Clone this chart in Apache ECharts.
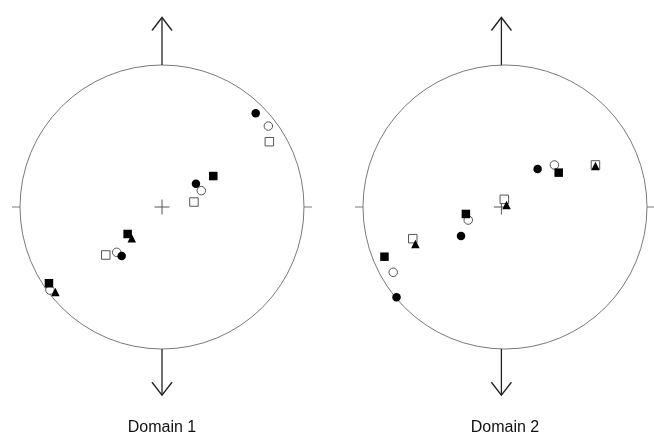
<!DOCTYPE html>
<html>
<head>
<meta charset="utf-8">
<script src="https://cdn.jsdelivr.net/npm/echarts@6/dist/echarts.min.js"></script>
<style>
html,body{margin:0;padding:0;background:#fff;}
#chart{width:654px;height:435px;}
</style>
</head>
<body>
<div id="chart"></div>
<script>
// ---- Data (unit-circle coordinates: x east, y north) ----
const domainNames = ['Domain 1', 'Domain 2'];

const d1OpenSquare   = [[0.756, 0.460], [0.225, 0.035], [-0.396, -0.338]];
const d1OpenCircle   = [[0.749, 0.570], [0.277, 0.115], [-0.319, -0.319], [-0.789, -0.585]];
const d1FilledCircle = [[0.660, 0.660], [0.239, 0.164], [-0.284, -0.345]];
const d1FilledSquare = [[0.361, 0.218], [-0.242, -0.190], [-0.796, -0.537]];
const d1FilledTri    = [[-0.213, -0.220], [-0.751, -0.599]];

const d2OpenSquare   = [[0.678, 0.296], [0.021, 0.054], [-0.639, -0.223]];
const d2OpenCircle   = [[0.382, 0.296], [-0.239, -0.092], [-0.780, -0.460]];
const d2FilledCircle = [[0.261, 0.268], [-0.291, -0.204], [-0.756, -0.636]];
const d2FilledSquare = [[0.413, 0.242], [-0.256, -0.049], [-0.843, -0.350]];
const d2FilledTri    = [[0.678, 0.289], [0.037, 0.014], [-0.620, -0.261]];

const centerMark = [[0, 0]];
const arrowUp    = [[0, 1], [0, 1.335]];
const arrowDown  = [[0, -1], [0, -1.325]];

const domains = [
  {openSquare: d1OpenSquare, openCircle: d1OpenCircle, filledCircle: d1FilledCircle, filledSquare: d1FilledSquare, filledTri: d1FilledTri},
  {openSquare: d2OpenSquare, openCircle: d2OpenCircle, filledCircle: d2FilledCircle, filledSquare: d2FilledSquare, filledTri: d2FilledTri}
];

// ---- Layout ----
const R = 142;
const centersX = [162, 505];
const centerY = 207;
const XR = 1.1, YR = 1.36;

const grids = [], xAxes = [], yAxes = [], polars = [], angleAxes = [], radiusAxes = [], series = [], graphics = [];

centersX.forEach((cx, i) => {
  grids.push({left: cx - XR * R, top: centerY - YR * R, width: 2 * XR * R, height: 2 * YR * R, containLabel: false});
  xAxes.push({gridIndex: i, type: 'value', min: -XR, max: XR, show: false});
  yAxes.push({gridIndex: i, type: 'value', min: -YR, max: YR, show: false});
  polars.push({center: [cx, centerY], radius: R});
  angleAxes.push({
    polarIndex: i, type: 'value', min: 0, max: 360, interval: 180, startAngle: 0,
    axisLine: {lineStyle: {color: '#7a7a7a', width: 1}},
    axisTick: {show: true, length: 8, lineStyle: {color: '#7a7a7a', width: 1}},
    axisLabel: {show: false}, splitLine: {show: false}
  });
  radiusAxes.push({polarIndex: i, type: 'value', min: 0, max: 1, show: false});

  const d = domains[i];
  const base = {type: 'scatter', xAxisIndex: i, yAxisIndex: i, clip: false, silent: true, animation: false};
  series.push(Object.assign({}, base, {name: 'cross' + i, data: centerMark, symbol: 'path://M0,5L10,5M5,0L5,10', symbolSize: 15,
    itemStyle: {color: 'rgba(0,0,0,0)', borderColor: '#555', borderWidth: 1, opacity: 1}}));
  series.push(Object.assign({}, base, {name: 'openSquare' + i, data: d.openSquare, symbol: 'rect', symbolSize: 8.5,
    itemStyle: {color: '#fff', borderColor: '#555', borderWidth: 1, opacity: 1}}));
  series.push(Object.assign({}, base, {name: 'openCircle' + i, data: d.openCircle, symbol: 'circle', symbolSize: 8.5,
    itemStyle: {color: '#fff', borderColor: '#555', borderWidth: 1, opacity: 1}}));
  series.push(Object.assign({}, base, {name: 'filledCircle' + i, data: d.filledCircle, symbol: 'circle', symbolSize: 8.5,
    itemStyle: {color: '#000', opacity: 1}}));
  series.push(Object.assign({}, base, {name: 'filledSquare' + i, data: d.filledSquare, symbol: 'rect', symbolSize: 8.5,
    itemStyle: {color: '#000', opacity: 1}}));
  series.push(Object.assign({}, base, {name: 'filledTri' + i, data: d.filledTri, symbol: 'triangle', symbolSize: 8.5,
    itemStyle: {color: '#000', opacity: 1}}));

  // north / south arrows
  [[arrowUp, 'path://M0,10L5,0L10,10', 6.5], [arrowDown, 'path://M0,0L5,10L10,0', -6.5]].forEach(([pts, path, off]) => {
    series.push({
      type: 'line', xAxisIndex: i, yAxisIndex: i, clip: false, silent: true, animation: false,
      data: [
        {value: pts[0], symbol: 'none'},
        {value: pts[1], symbol: path, symbolSize: [20, 13], symbolOffset: [0, off]}
      ],
      lineStyle: {color: '#222', width: 1.3},
      itemStyle: {color: 'rgba(0,0,0,0)', borderColor: '#222', borderWidth: 1.3}
    });
  });

  graphics.push({type: 'text', x: cx, y: 427.5, style: {text: domainNames[i], textAlign: 'center', textVerticalAlign: 'middle',
    fontFamily: 'Liberation Sans, Arial, sans-serif', fontSize: 16, fill: '#111'}});
});

const chart = echarts.init(document.getElementById('chart'), null, {renderer: 'canvas'});
chart.setOption({
  animation: false,
  backgroundColor: '#fff',
  grid: grids, xAxis: xAxes, yAxis: yAxes,
  polar: polars, angleAxis: angleAxes, radiusAxis: radiusAxes,
  series: series,
  graphic: graphics
});
</script>
</body>
</html>
